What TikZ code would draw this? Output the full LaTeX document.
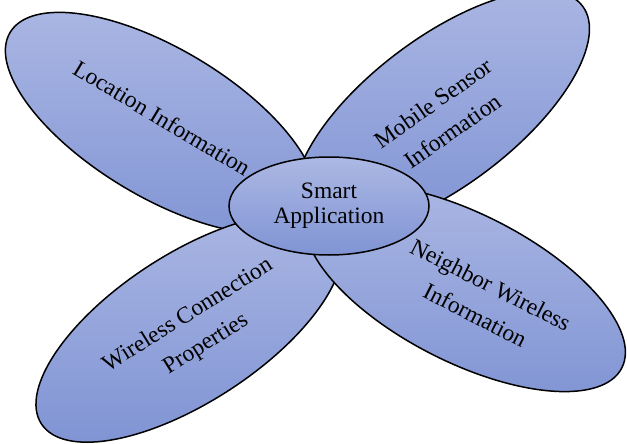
\documentclass[tikz,border=0pt]{standalone}
\usepackage{fontspec}
\setmainfont{Liberation Serif}
\usetikzlibrary{shapes.geometric}
\definecolor{petaltop}{RGB}{172,184,228}
\definecolor{petalbottom}{RGB}{128,148,212}

\begin{document}
\begin{tikzpicture}[x=1pt,y=-1pt,
    every node/.style={font=\fontsize{23.5}{34}\selectfont},
    petal/.style={ellipse,draw=black,line width=1.5pt,top color=petaltop,bottom color=petalbottom,minimum width=352pt,minimum height=148pt,inner sep=0pt},
    petaltext/.style={align=center,inner sep=0pt},
    hub/.style={petal,minimum width=200pt,minimum height=98pt,align=center,font=\fontsize{23.5}{25}\selectfont}]
  \useasboundingbox (0,0) rectangle (627,444);
  \clip (0,0) rectangle (627,444);
  % petals
  \node[petal,rotate=-31] (loc) at (161,123) {};
  \node[petal,rotate=37] (mob) at (442,112) {};
  \node[petal,rotate=33] (wcp) at (189,328) {};
  \node[petal,rotate=-27] (nwi) at (465,288) {};
  \node[petaltext,rotate=-31] (loc-t) at (162,118) {Location Information};
  \node[petaltext,rotate=35] (mob-t) at (443,117) {Mobile Sensor\\Information};
  \node[petaltext,rotate=32] (wcp-t) at (197,330) {Wireless Connection\\Properties};
  \node[petaltext,rotate=-27] (nwi-t) at (483,300) {Neighbor Wireless\\Information};
  % centre
  \node[hub] (app) at (329,206) {Smart\\Application};
\end{tikzpicture}
\end{document}
